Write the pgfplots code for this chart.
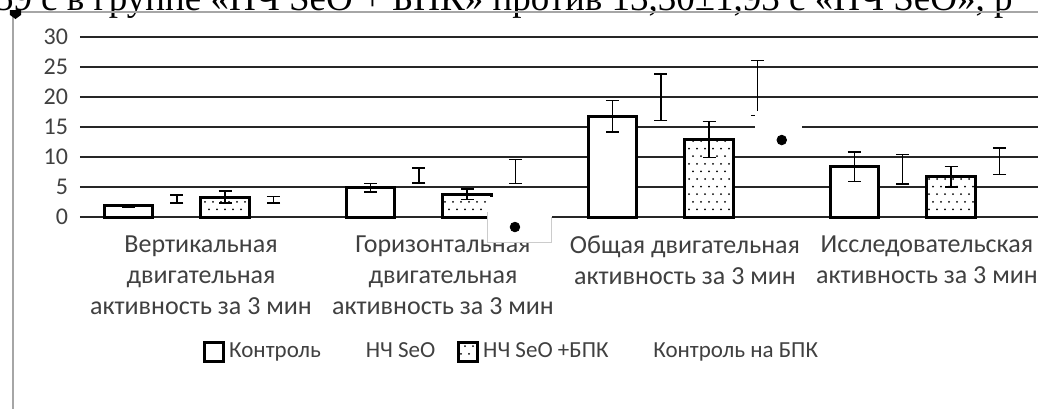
\documentclass[border=0pt]{standalone}
\usepackage{fontspec}
\setmainfont{Carlito}
\newfontfamily\tnr{Liberation Serif}
\usepackage{pgfplots}
\pgfplotsset{compat=1.18}
\usetikzlibrary{patterns}
\pgfdeclarepatternformonly{sparsedots}{\pgfqpoint{-1pt}{-1pt}}{\pgfqpoint{5pt}{8.6pt}}{\pgfqpoint{4pt}{7.6pt}}{%
  \pgfpathcircle{\pgfqpoint{0.5pt}{0.5pt}}{0.5pt}\pgfusepath{fill}%
  \pgfpathcircle{\pgfqpoint{2.5pt}{4.3pt}}{0.5pt}\pgfusepath{fill}}
\definecolor{framegray}{HTML}{A6A6A6}
\definecolor{txt}{HTML}{404040}

% data: x  y  err
\pgfplotstableread{
x y e
0 1.9 0.2
1 4.9 0.7
2 16.8 2.6
3 8.4 2.45
}\control
\pgfplotstableread{
x y e
0 3.0 0.7
1 6.95 1.25
2 19.95 3.9
3 7.95 2.45
}\seo
\pgfplotstableread{
x y e
0 3.3 1.0
1 3.8 0.9
2 12.9 3.0
3 6.7 1.7
}\seobpk
\pgfplotstableread{
x y e
0 2.85 0.55
1 7.6 2.0
2 21.5 4.55
3 9.3 2.2
}\controlbpk

\begin{document}
\begin{tikzpicture}
\path[use as bounding box] (-40pt,-95.5pt) rectangle (479pt,108.5pt);
% top cut text
\node[anchor=base east, inner sep=0pt, font=\tnr\fontsize{18.5}{20}\selectfont] at (466.5pt,103.3pt)
  {59 с в группе «НЧ SeO + БПК» против 13,30±1,93 с «НЧ SeO», р};
% frame
\draw[framegray, line width=0.75pt] (-33.5pt,-100pt) -- (-33.5pt,102.5pt) -- (490pt,102.5pt);
\fill[black] (-35pt,103.5pt) -- (-29.5pt,103.5pt) -- (-29.5pt,101pt) -- (-32.25pt,99pt) -- (-35pt,101pt) -- cycle;
\begin{axis}[
  at={(0pt,0pt)}, anchor=south west,
  scale only axis, width=479pt, height=90pt,
  xmin=-0.5, xmax=3.459, ymin=0, ymax=30,
  clip=false,
  axis line style={draw=none},
  ytick={0,5,...,30},
  ymajorgrids, grid style={black!85, line width=0.8pt},
  major tick length=0pt,
  xtick={0,1,2,3},
  xticklabels={{Вертикальная\\двигательная\\активность за 3 мин},
               {Горизонтальная\\двигательная\\активность за 3 мин},
               {Общая двигательная\\активность за 3 мин},
               {Исследовательская\\активность за 3 мин}},
  xticklabel style={align=center, anchor=north, yshift=-6pt, text=txt,
     font=\fontsize{13}{15.5}\selectfont},
  yticklabel style={xshift=-2.5pt, text=txt, font=\fontsize{12}{14}\selectfont},
  /pgf/number format/assume math mode=true,
  ybar, bar width=0.2,
  error bars/y dir=both, error bars/y explicit,
  error bars/error bar style={black, line width=0.75pt},
  error bars/error mark options={rotate=90, black, mark size=3.3pt, line width=0.75pt},
  legend columns=4,
  legend style={draw=none, fill=none, at={(0.1284,-0.75)}, anchor=west,
     font=\fontsize{11.5}{13}\selectfont, text=txt, inner sep=0pt,
     /tikz/every even column/.append style={column sep=9pt},
     legend cell align=left},
  legend image code/.code={\draw[#1] (0pt,-4.6pt) rectangle (9.4pt,4.6pt);},
]
\addplot[bar shift=-0.3, fill=white, draw=black, line width=1.5pt]
  table[x=x, y=y, y error=e] {\control};
\addlegendentry{Контроль}
\addplot[bar shift=-0.1, fill=none, draw=none,
  legend image code/.code={\path (0pt,-4.6pt) rectangle (9.4pt,4.6pt);}]
  table[x=x, y=y, y error=e] {\seo};
\addlegendentry{НЧ SeO}
\addplot[bar shift=0.1, fill=white, postaction={pattern=sparsedots}, draw=black, line width=1.5pt]
  table[x=x, y=y, y error=e] {\seobpk};
\addlegendentry{НЧ SeO +БПК}
\addplot[bar shift=0.3, fill=none, draw=none,
  legend image code/.code={\path (0pt,-4.6pt) rectangle (9.4pt,4.6pt);}]
  table[x=x, y=y, y error=e] {\controlbpk};
\addlegendentry{Контроль на БПК}
% white boxes covering chart (artefacts of the source)
\fill[white] (axis cs:1.186,3.33) rectangle (axis cs:1.450,-4.33);
\draw[black!20, line width=0.5pt] (axis cs:1.186,0.8) -- (axis cs:1.186,-4.33) -- (axis cs:1.450,-4.33) -- (axis cs:1.450,0);
\fill[white] (axis cs:2.289,17.6) rectangle (axis cs:2.483,11.0);
\addplot[only marks, mark=*, mark size=2.4pt, black, forget plot, error bars/y dir=none]
  coordinates {(1.2975,-1.67) (2.40,12.83)};
\end{axis}
\end{tikzpicture}
\end{document}
